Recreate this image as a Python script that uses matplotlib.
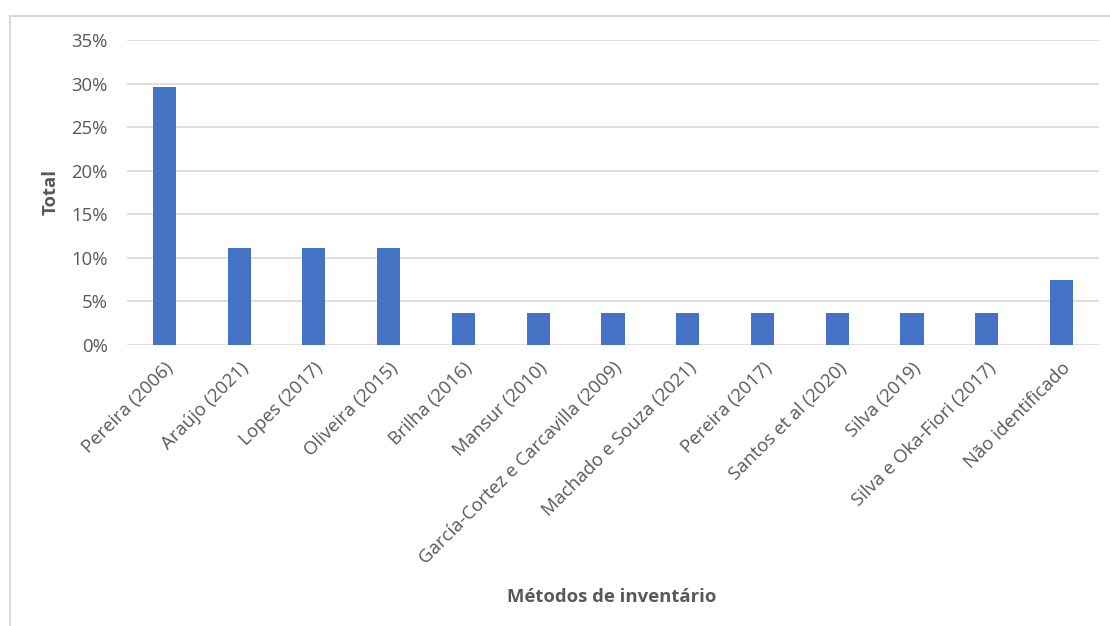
import numpy as np
import matplotlib.pyplot as plt
from matplotlib.lines import Line2D
from matplotlib.ticker import PercentFormatter

metodos = ["Pereira (2006)", "Araújo (2021)", "Lopes (2017)", "Oliveira (2015)",
           "Brilha (2016)", "Mansur (2010)", "García-Cortez e Carcavilla (2009)",
           "Machado e Souza (2021)", "Pereira (2017)", "Santos et al (2020)",
           "Silva (2019)", "Silva e Oka-Fiori (2017)", "Não identificado"]
total = [29.63, 11.11, 11.11, 11.11, 3.70, 3.70, 3.70,
         3.70, 3.70, 3.70, 3.70, 3.70, 7.41]

plt.rcParams['font.family'] = ['Open Sans', 'DejaVu Sans']
cinza = "#595959"

fig = plt.figure(figsize=(11.1, 6.26), dpi=100)
ax = fig.add_axes([0.1144, 0.449, 0.8756, 0.487])

x = np.arange(len(metodos))
ax.bar(x, total, width=0.31, color="#4472C4", zorder=3)

ax.set_xlim(-0.5, len(metodos) - 0.5)
ax.set_ylim(0, 35)
ax.set_yticks(np.arange(0, 36, 5))
ax.yaxis.set_major_formatter(PercentFormatter(decimals=0))
ax.grid(axis="y", color="#d9d9d9", linewidth=1.2, zorder=0)

ax.set_xticks(x)
ax.set_xticklabels(metodos, rotation=45, ha="right", rotation_mode="anchor")
ax.tick_params(axis="both", length=0, labelsize=13.3, colors=cinza, pad=10)
ax.tick_params(axis="y", pad=14)

for s in ax.spines.values():
    s.set_visible(False)

ax.set_ylabel("Total", fontsize=13.3, fontweight="bold", color=cinza, labelpad=8)
fig.text(0.551, 0.047, "Métodos de inventário", fontsize=13.3,
         fontweight="bold", color=cinza, ha="center", va="center")

# moldura do gráfico
moldura = dict(color="#d9d9d9", linewidth=1.5, transform=fig.transFigure)
fig.add_artist(Line2D([9.5 / 1110, 9.5 / 1110], [0, 1 - 16 / 626], **moldura))
fig.add_artist(Line2D([9.5 / 1110, 1], [1 - 16 / 626, 1 - 16 / 626], **moldura))

fig.savefig("out.png", dpi=100)
